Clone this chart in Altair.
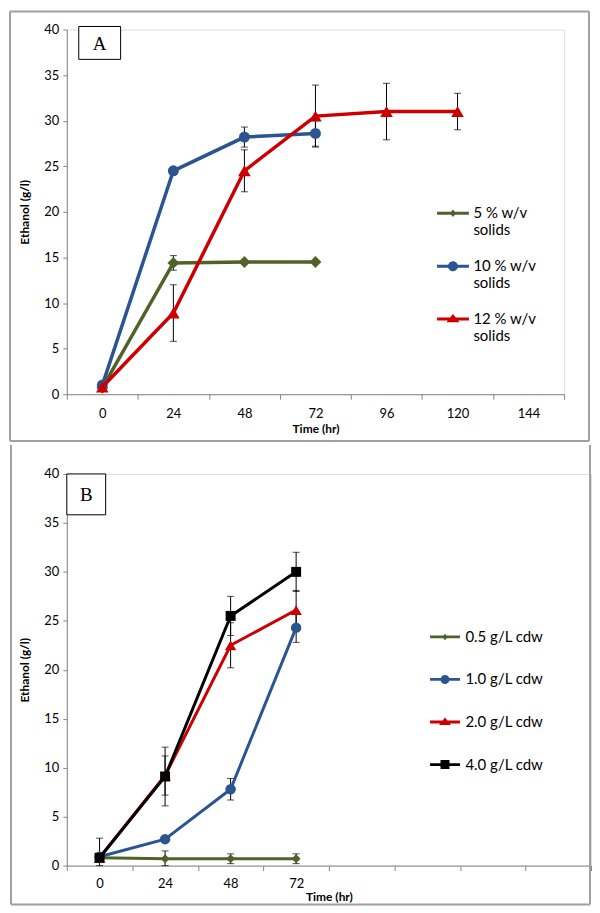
import altair as alt
import pandas as pd

FONT = "Lato"
AXIS_GRAY = "#868686"
FRAME_GRAY = "#A0A0A0"

# ---------------- Panel A data ----------------
A_TIMES = ["0", "24", "48", "72", "96", "120", "144"]
A_SERIES = ["5 % w/v|solids", "10 % w/v|solids", "12 % w/v|solids"]
A_COLORS = ["#4F6228", "#2A5592", "#CC0000"]
A_SHAPES = ["diamond", "circle", "triangle-up"]
A_SIZES = [140, 121, 160]

a5_t = ["0", "24", "48", "72"]
a5_y = [0.7, 14.4, 14.5, 14.5]
a5_e = [0.0, 0.8, 0.0, 0.0]

a10_t = ["0", "24", "48", "72"]
a10_y = [1.0, 24.5, 28.2, 28.6]
a10_e = [0.0, 0.0, 1.1, 1.4]

a12_t = ["0", "24", "48", "72", "96", "120"]
a12_y = [0.8, 8.9, 24.5, 30.5, 31.0, 31.0]
a12_e = [0.0, 3.1, 2.3, 3.4, 3.1, 2.0]

# ---------------- Panel B data ----------------
B_TIMES = ["0", "24", "48", "72", "96", "120", "144", "168"]
B_SHOWN = ["0", "24", "48", "72"]
B_SERIES = ["0.5 g/L cdw", "1.0 g/L cdw", "2.0 g/L cdw", "4.0 g/L cdw"]
B_COLORS = ["#4F6228", "#2A5592", "#CC0000", "#000000"]
B_SHAPES = ["diamond", "circle", "triangle-up", "square"]
B_SIZES = [80, 110, 130, 100]

b05_y = [0.8, 0.7, 0.7, 0.7]
b05_e = [0.0, 0.8, 0.5, 0.5]
b10_y = [0.9, 2.7, 7.8, 24.3]
b10_e = [0.0, 0.0, 1.1, 1.5]
b20_y = [0.8, 9.2, 22.5, 26.1]
b20_e = [0.0, 2.0, 2.3, 2.0]
b40_y = [0.8, 9.1, 25.5, 30.0]
b40_e = [2.0, 3.0, 2.0, 2.0]

Y_TICKS = [0, 5, 10, 15, 20, 25, 30, 35, 40]

# legend symbols: line segment + marker (custom paths, unit = sqrt(size)/2 px)
def leg_paths(half, thick, markers):
    line = f"M{-half},{-thick} L{half},{-thick} L{half},{thick} L{-half},{thick} Z "
    return [line + m for m in markers]

DIAMOND = lambda r: f"M0,{-r} L{r*0.85},0 L0,{r} L{-r*0.85},0 Z"
CIRCLE = lambda r: f"M{r},0 A{r},{r} 0 1,1 {-r},0 A{r},{r} 0 1,1 {r},0 Z"
TRIANGLE = lambda r: f"M0,{-r*0.9} L{r*1.2},{r*0.6} L{-r*1.2},{r*0.6} Z"
SQUARE = lambda r: f"M{-r},{-r} L{r},{-r} L{r},{r} L{-r},{r} Z"

A_LEG = leg_paths(3.2, 0.3, [DIAMOND(0.75), CIRCLE(1.0), TRIANGLE(1.1)])
B_LEG = leg_paths(3.0, 0.28, [DIAMOND(0.65), CIRCLE(0.9), TRIANGLE(1.0), SQUARE(0.9)])


def long_df(series, times_list, ys_list, es_list):
    rows = []
    for s, ts, ys, es in zip(series, times_list, ys_list, es_list):
        for t, y, e in zip(ts, ys, es):
            rows.append({"series": s, "t": t, "y": y, "e": e})
    return pd.DataFrame(rows)


def panel(df, times, shown, series, colors, shapes, sizes, leg_paths_, width, height,
          frame, top_edge, box, letter, stroke_w, legend_xy, row_pad, xlabel_pad, xtitle_pad):
    xscale = alt.Scale(type="band", domain=times, paddingInner=0, paddingOuter=0)
    yscale = alt.Scale(domain=[0, 40], nice=False)
    label_expr = "indexof(%s, datum.value) >= 0 ? datum.label : ''" % str(shown)
    xaxis = alt.Axis(title="Time (hr)", tickBand="extent", labelAngle=0, tickSize=5,
                     labelPadding=xlabel_pad, titlePadding=xtitle_pad, domainColor=AXIS_GRAY,
                     tickColor=AXIS_GRAY,
                     labelFont=FONT, labelFontSize=13, labelColor="#000",
                     titleFont=FONT, titleFontSize=12, titleFontWeight="bold", titleColor="#000",
                     labelExpr=label_expr, grid=False)
    yaxis = alt.Axis(title="Ethanol (g/l)", values=Y_TICKS, tickSize=4, labelPadding=4,
                     titlePadding=12, domainColor=AXIS_GRAY, tickColor=AXIS_GRAY,
                     labelFont=FONT, labelFontSize=13, labelColor="#000",
                     titleFont=FONT, titleFontSize=12, titleFontWeight="bold", titleColor="#000",
                     grid=False)
    X = alt.X("t:O", scale=xscale, axis=xaxis, bandPosition=0.5)
    Y = alt.Y("y:Q", scale=yscale, axis=yaxis)

    one = pd.DataFrame({"k": [0]})
    fx1, fx2, fy1, fy2 = frame
    edges = [
        alt.Chart(one).mark_rule(color=FRAME_GRAY, strokeWidth=2).encode(
            x=alt.value(fx1), x2=alt.value(fx1), y=alt.value(fy1), y2=alt.value(fy2)),
        alt.Chart(one).mark_rule(color=FRAME_GRAY, strokeWidth=2).encode(
            x=alt.value(fx2), x2=alt.value(fx2), y=alt.value(fy1), y2=alt.value(fy2)),
        alt.Chart(one).mark_rule(color=FRAME_GRAY, strokeWidth=2).encode(
            x=alt.value(fx1), x2=alt.value(fx2), y=alt.value(fy2), y2=alt.value(fy2)),
    ]
    if top_edge:
        edges.append(alt.Chart(one).mark_rule(color=FRAME_GRAY, strokeWidth=2).encode(
            x=alt.value(fx1), x2=alt.value(fx2), y=alt.value(fy1), y2=alt.value(fy1)))
    bx1, bx2, by1, by2 = box
    box_rect = alt.Chart(one).mark_rect(fill="white", stroke="black", strokeWidth=1).encode(
        x=alt.value(bx1), x2=alt.value(bx2), y=alt.value(by1), y2=alt.value(by2))
    box_text = alt.Chart(pd.DataFrame({"lab": [letter]})).mark_text(
        font="Liberation Serif", fontSize=19, align="center", baseline="middle", color="black"
    ).encode(text="lab:N", x=alt.value((bx1 + bx2) / 2), y=alt.value((by1 + by2) / 2 + 1))

    err = alt.Chart(df).transform_filter("datum.e > 0").transform_calculate(
        lo="max(0, datum.y - datum.e)", hi="datum.y + datum.e")
    err_rule = err.mark_rule(color="black", strokeWidth=1).encode(
        x=X, y=alt.Y("lo:Q", scale=yscale, axis=yaxis), y2="hi:Q")
    err_lo = err.mark_tick(color="black", thickness=1, size=7).encode(
        x=X, y=alt.Y("lo:Q", scale=yscale, axis=yaxis))
    err_hi = err.mark_tick(color="black", thickness=1, size=7).encode(
        x=X, y=alt.Y("hi:Q", scale=yscale, axis=yaxis))

    layers = edges + [err_rule, err_lo, err_hi]
    for s, c, sh, sz in zip(series, colors, shapes, sizes):
        base = alt.Chart(df).transform_filter(alt.datum.series == s)
        layers.append(base.mark_line(color=c, strokeWidth=stroke_w).encode(x=X, y=Y))
        layers.append(base.mark_point(color=c, shape=sh, size=sz, filled=True, opacity=1).encode(x=X, y=Y))

    lx, ly = legend_xy
    leg = alt.Legend(title=None, orient="none", legendX=lx, legendY=ly, padding=0,
                     rowPadding=row_pad, symbolSize=100, symbolStrokeWidth=0,
                     labelOffset=13, labelFont=FONT, labelFontSize=15, labelColor="#000",
                     labelLimit=300, labelBaseline="middle",
                     labelExpr="split(datum.label, '|')")
    legend_layer = alt.Chart(pd.DataFrame({"series": series})).transform_filter("false").mark_point(
        filled=True, opacity=1).encode(
        color=alt.Color("series:N", scale=alt.Scale(domain=series, range=colors), legend=leg),
        shape=alt.Shape("series:N", scale=alt.Scale(domain=series, range=leg_paths_), legend=leg))
    layers += [legend_layer, box_rect, box_text]
    return alt.layer(*layers).properties(width=width, height=height)


dfA = long_df(A_SERIES, [a5_t, a10_t, a12_t], [a5_y, a10_y, a12_y], [a5_e, a10_e, a12_e])
dfB = long_df(B_SERIES, [B_SHOWN] * 4, [b05_y, b10_y, b20_y, b40_y], [b05_e, b10_e, b20_e, b40_e])

chartA = panel(dfA, A_TIMES, A_TIMES, A_SERIES, A_COLORS, A_SHAPES, A_SIZES, A_LEG, 499, 366,
               frame=(-57, 524, -18, 413), top_edge=True, box=(12, 54, -3, 30), letter="A",
               stroke_w=3.5, legend_xy=(380, 177), row_pad=20, xlabel_pad=8, xtitle_pad=3)
chartB = panel(dfB, B_TIMES, B_SHOWN, B_SERIES, B_COLORS, B_SHAPES, B_SIZES, B_LEG, 526, 393,
               frame=(-56, 525, -29, 432), top_edge=False, box=(0, 39, 0, 41), letter="B",
               stroke_w=3, legend_xy=(372, 156), row_pad=26.7, xlabel_pad=7, xtitle_pad=1)

chart = alt.vconcat(chartA, chartB, spacing=0).resolve_scale(
    color="independent", shape="independent"
).properties(padding=0).configure_view(stroke=None).configure(font=FONT)

chart.save("out.html", embed_options={"renderer": "svg", "actions": False})
